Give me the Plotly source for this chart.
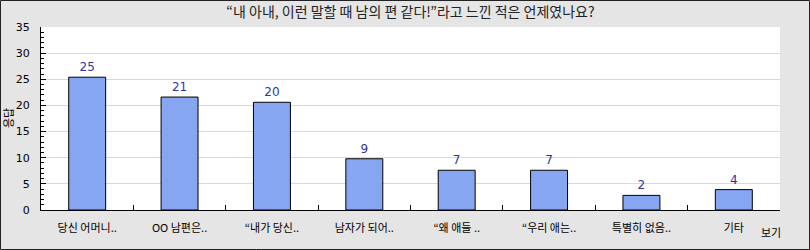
import plotly.graph_objects as go

categories = ["당신 어머니..", "OO 남편은..", "“내가 당신..", "남자가 되어..",
              "“왜 애들 ..", "“우리 애는..", "특별히 없음..", "기타"]
values = [25.4, 21.6, 20.6, 9.8, 7.6, 7.6, 2.8, 3.9]
value_labels = ["25", "21", "20", "9", "7", "7", "2", "4"]
y_ticks = [0, 5, 10, 15, 20, 25, 30, 35]

title_text = "“내 아내, 이런 말할 때 남의 편 같다!”라고 느낀 적은 언제였나요?"
y_title = "응답"
x_title = "보기"

W, H = 810, 250
L, R, T, B = 41, 30, 27, 40
pw, ph = W - L - R, H - T - B

font_family = "Noto Sans CJK KR, DejaVu Sans, sans-serif"

fig = go.Figure(go.Bar(
    x=categories, y=values, width=0.4,
    marker=dict(color="#87a6f2", line=dict(color="#000000", width=1)),
    text=value_labels, textposition="outside", cliponaxis=False,
    textfont=dict(color="#333399", size=12, family="DejaVu Sans, sans-serif"),
))

def px_x(p):
    return (p - L) / pw

def px_y(p):
    return (H - B - p) / ph

fig.update_layout(
    width=W, height=H,
    margin=dict(l=L, r=R, t=T, b=B, pad=0, autoexpand=False),
    paper_bgcolor="#e5e5e5", plot_bgcolor="#ffffff",
    showlegend=False, bargap=0.6,
    font=dict(family=font_family, color="#000000", size=10),
    title=dict(text=title_text, x=0.5, xref="paper", y=1 - 12 / H, yanchor="middle",
               font=dict(size=14, color="#222222", family=font_family)),
    shapes=[dict(type="rect", xref="paper", yref="paper",
                 x0=px_x(0.5), x1=px_x(809.5), y0=px_y(249.5), y1=px_y(0.5),
                 line=dict(color="#222222", width=1), fillcolor="rgba(0,0,0,0)", layer="above")],
    annotations=[
        dict(text=x_title, xref="paper", yref="paper", x=px_x(771), y=px_y(232),
             xanchor="center", yanchor="middle", showarrow=False,
             font=dict(size=11, color="#000000", family=font_family)),
        dict(text=y_title, xref="paper", yref="paper", x=px_x(8), y=px_y(118),
             xanchor="center", yanchor="middle", textangle=-90, showarrow=False,
             font=dict(size=11, color="#000000", family=font_family)),
    ],
)

fig.update_xaxes(
    type="category", automargin=False, showline=True, linecolor="#000000", linewidth=1,
    ticks="inside", tickson="boundaries", ticklen=5, tickcolor="#000000",
    showgrid=False, tickfont=dict(size=11, color="#000000", family=font_family),
    ticklabelstandoff=8, mirror=False,
)
fig.update_yaxes(
    range=[0, 35], tickvals=y_ticks, automargin=False, showline=True,
    linecolor="#000000", linewidth=1,
    ticks="inside", ticklen=5, tickcolor="#000000",
    minor=dict(dtick=1, ticks="inside", ticklen=3, tickcolor="#000000", showgrid=False),
    showgrid=True, gridcolor="#d9d9d9", gridwidth=1, zeroline=False,
    tickfont=dict(size=11, color="#000000", family="DejaVu Sans, sans-serif"),
    ticklabelstandoff=8,
)

fig.write_html("out.html")
